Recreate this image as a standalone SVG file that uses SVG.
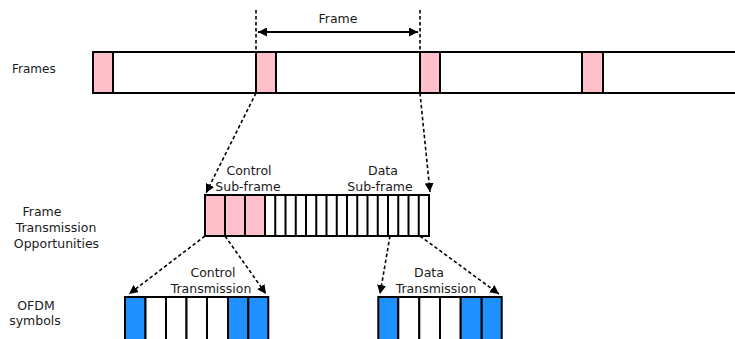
<svg xmlns="http://www.w3.org/2000/svg" width="735" height="339" viewBox="0 0 735 339">
  <defs>
    <style>
      text { font-family: "DejaVu Sans", "Liberation Sans", sans-serif; font-size: 12.5px; fill: #1a1a1a; }
      .mid { text-anchor: middle; }
      .cell { stroke: #000; stroke-width: 2; }
      .pink { fill: #ffc0cb; }
      .blue { fill: #1e90ff; }
      .white { fill: #fff; }
      .dash { fill: none; stroke: #000; stroke-width: 1.6; stroke-dasharray: 3.5 2.5; }
      .solid { fill: none; stroke: #000; stroke-width: 2; }
    </style>
    <marker id="head" viewBox="0 0 10 10" refX="10" refY="5" markerWidth="9" markerHeight="9" markerUnits="userSpaceOnUse" orient="auto-start-reverse">
      <path d="M0,0 L10,5 L0,10 Z" fill="#000"/>
    </marker>
  </defs>

  <rect width="735" height="339" fill="#fff"/>

  <!-- Row labels -->
  <g id="labels">
    <text x="12" y="73" style="font-size:12px">Frames</text>
    <text class="mid" x="42" y="216">Frame</text>
    <text class="mid" x="56" y="232">Transmission</text>
    <text class="mid" x="56.5" y="248">Opportunities</text>
    <text class="mid" x="36" y="310">OFDM</text>
    <text class="mid" x="35" y="325">symbols</text>
  </g>

  <!-- Frame strip -->
  <g id="frames">
    <rect class="cell white" x="93" y="52" width="660" height="41"/>
    <rect class="cell pink" x="93" y="52" width="20" height="41"/>
    <rect class="cell pink" x="256" y="52" width="20" height="41"/>
    <rect class="cell pink" x="420" y="52" width="20" height="41"/>
    <rect class="cell pink" x="582" y="52" width="21" height="41"/>
  </g>

  <!-- Frame length marker -->
  <g id="frame-span">
    <line class="dash" x1="256" y1="10" x2="256" y2="52"/>
    <line class="dash" x1="420" y1="10" x2="420" y2="52"/>
    <line class="solid" x1="258" y1="32" x2="418" y2="32" marker-start="url(#head)" marker-end="url(#head)"/>
    <text class="mid" x="338" y="23">Frame</text>
  </g>

  <!-- Transmission opportunities within one frame -->
  <g id="subframes">
    <rect class="cell white" x="205" y="195" width="224" height="41"/>
    <rect class="cell pink" x="205" y="195" width="20" height="41"/>
    <rect class="cell pink" x="225" y="195" width="20" height="41"/>
    <rect class="cell pink" x="245" y="195" width="20" height="41"/>
    <path class="cell" fill="none" d="M275.25,195V236 M285.5,195V236 M295.75,195V236 M306,195V236 M316.25,195V236 M326.5,195V236 M336.75,195V236 M347,195V236 M357.25,195V236 M367.5,195V236 M377.75,195V236 M388,195V236 M398.25,195V236 M408.5,195V236 M418.75,195V236"/>
    <text class="mid" x="249" y="175">Control</text>
    <text class="mid" x="248" y="191">Sub-frame</text>
    <text class="mid" x="383" y="175">Data</text>
    <text class="mid" x="380" y="191">Sub-frame</text>
  </g>

  <!-- Control transmission symbols -->
  <g id="ofdm-control">
    <rect class="cell blue" x="125" y="297" width="20.5" height="44"/>
    <rect class="cell white" x="145.5" y="297" width="20.5" height="44"/>
    <rect class="cell white" x="166" y="297" width="20.5" height="44"/>
    <rect class="cell white" x="186.5" y="297" width="20.5" height="44"/>
    <rect class="cell white" x="207" y="297" width="21" height="44"/>
    <rect class="cell blue" x="228" y="297" width="20.3" height="44"/>
    <rect class="cell blue" x="248.3" y="297" width="20" height="44"/>
    <text class="mid" x="213" y="277">Control</text>
    <text class="mid" x="211" y="293">Transmission</text>
  </g>

  <!-- Data transmission symbols -->
  <g id="ofdm-data">
    <rect class="cell blue" x="378.3" y="297" width="20" height="44"/>
    <rect class="cell white" x="398.3" y="297" width="21" height="44"/>
    <rect class="cell white" x="419.3" y="297" width="20.7" height="44"/>
    <rect class="cell white" x="440" y="297" width="20.7" height="44"/>
    <rect class="cell blue" x="460.7" y="297" width="21" height="44"/>
    <rect class="cell blue" x="481.7" y="297" width="20" height="44"/>
    <text class="mid" x="429" y="277">Data</text>
    <text class="mid" x="436" y="293">Transmission</text>
  </g>

  <!-- Zoom-in connectors -->
  <g id="connectors">
    <line class="dash" x1="256" y1="93" x2="206" y2="193" marker-end="url(#head)"/>
    <line class="dash" x1="420" y1="93" x2="430" y2="192" marker-end="url(#head)"/>
    <line class="dash" x1="205" y1="236" x2="129" y2="294" marker-end="url(#head)"/>
    <line class="dash" x1="225" y1="236" x2="266" y2="294" marker-end="url(#head)"/>
    <line class="dash" x1="390" y1="236" x2="380" y2="294" marker-end="url(#head)"/>
    <line class="dash" x1="420" y1="236" x2="499" y2="294" marker-end="url(#head)"/>
  </g>
</svg>
